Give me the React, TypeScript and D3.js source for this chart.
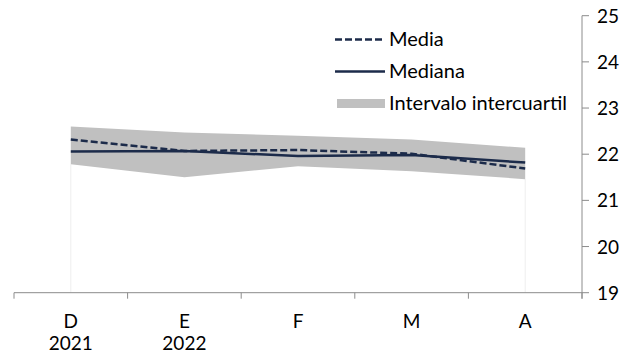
import React from "react";
import * as d3 from "d3";

const categories = ["D", "E", "F", "M", "A"];
const yearLabels = ["2021", "2022", "", "", ""];
const media = [22.32, 22.07, 22.09, 22.01, 21.69];
const mediana = [22.06, 22.07, 21.96, 21.98, 21.82];
const q1 = [21.78, 21.5, 21.74, 21.63, 21.46];
const q3 = [22.6, 22.47, 22.4, 22.32, 22.14];
const yTicks = [19, 20, 21, 22, 23, 24, 25];

const W = 639;
const H = 355;
const font = "Lato, 'Open Sans', sans-serif";
const navy = "#1c2b4a";
const fs = 19;
const fsLeg = 20;

export default function App() {
  const x = d3.scaleBand<string>().domain(categories).range([14, 582]);
  const cx = (i: number) => (x(categories[i]) ?? 0) + x.bandwidth() / 2;
  const y = d3.scaleLinear().domain([19, 25]).range([292.7, 15.7]);

  const area = d3
    .area<number>()
    .x((_, i) => cx(i))
    .y0((_, i) => y(q1[i]))
    .y1((_, i) => y(q3[i]));
  const line = (vals: number[]) =>
    d3
      .line<number>()
      .x((_, i) => cx(i))
      .y((d) => y(d))(vals) ?? "";

  const boundaries = categories.map((c) => x(c) ?? 0).concat([582]);

  return (
    <svg
      width={W}
      height={H}
      style={{ position: "absolute", left: 0, top: 0, background: "#fff" }}
      fontFamily={font}
    >
      {[0, categories.length - 1].map((i) => (
        <line
          key={i}
          x1={cx(i)}
          x2={cx(i)}
          y1={y(q1[i])}
          y2={y(19)}
          stroke="#eeeeee"
          strokeWidth={1}
        />
      ))}
      <path d={area(q1) ?? ""} fill="#c0c0c0" />
      <path d={line(mediana)} fill="none" stroke={navy} strokeWidth={2.5} />
      <path
        d={line(media)}
        fill="none"
        stroke={navy}
        strokeWidth={2.5}
        strokeDasharray="7,3"
      />

      <line x1={14} x2={582} y1={y(19)} y2={y(19)} stroke="#8c8c8c" strokeWidth={1} />
      {boundaries.map((b, i) => (
        <line key={i} x1={b} x2={b} y1={y(19)} y2={y(19) + 6} stroke="#8c8c8c" />
      ))}
      {categories.map((c, i) => (
        <g key={c}>
          <text x={cx(i)} y={328} textAnchor="middle" fontSize={fs} fill="#000">
            {c}
          </text>
          <text x={cx(i)} y={350} textAnchor="middle" fontSize={fs} fill="#000">
            {yearLabels[i]}
          </text>
        </g>
      ))}

      <line x1={582} x2={582} y1={y(25)} y2={y(19) + 6} stroke="#8c8c8c" strokeWidth={1} />
      {yTicks.map((t) => (
        <g key={t}>
          <line x1={582} x2={589} y1={y(t)} y2={y(t)} stroke="#8c8c8c" />
          <text x={597} y={y(t) + 7} fontSize={fs} fill="#000">
            {t}
          </text>
        </g>
      ))}

      <line x1={335} x2={385} y1={39.5} y2={39.5} stroke={navy} strokeWidth={2.5} strokeDasharray="7,3" />
      <text x={389} y={46} fontSize={fsLeg} fill="#000">Media</text>
      <line x1={335} x2={385} y1={71.5} y2={71.5} stroke={navy} strokeWidth={2.5} />
      <text x={389} y={78} fontSize={fsLeg} fill="#000">Mediana</text>
      <rect x={337} y={99} width={48} height={9} fill="#c0c0c0" />
      <text x={389} y={110} fontSize={fsLeg} fill="#000">Intervalo intercuartil</text>
    </svg>
  );
}
